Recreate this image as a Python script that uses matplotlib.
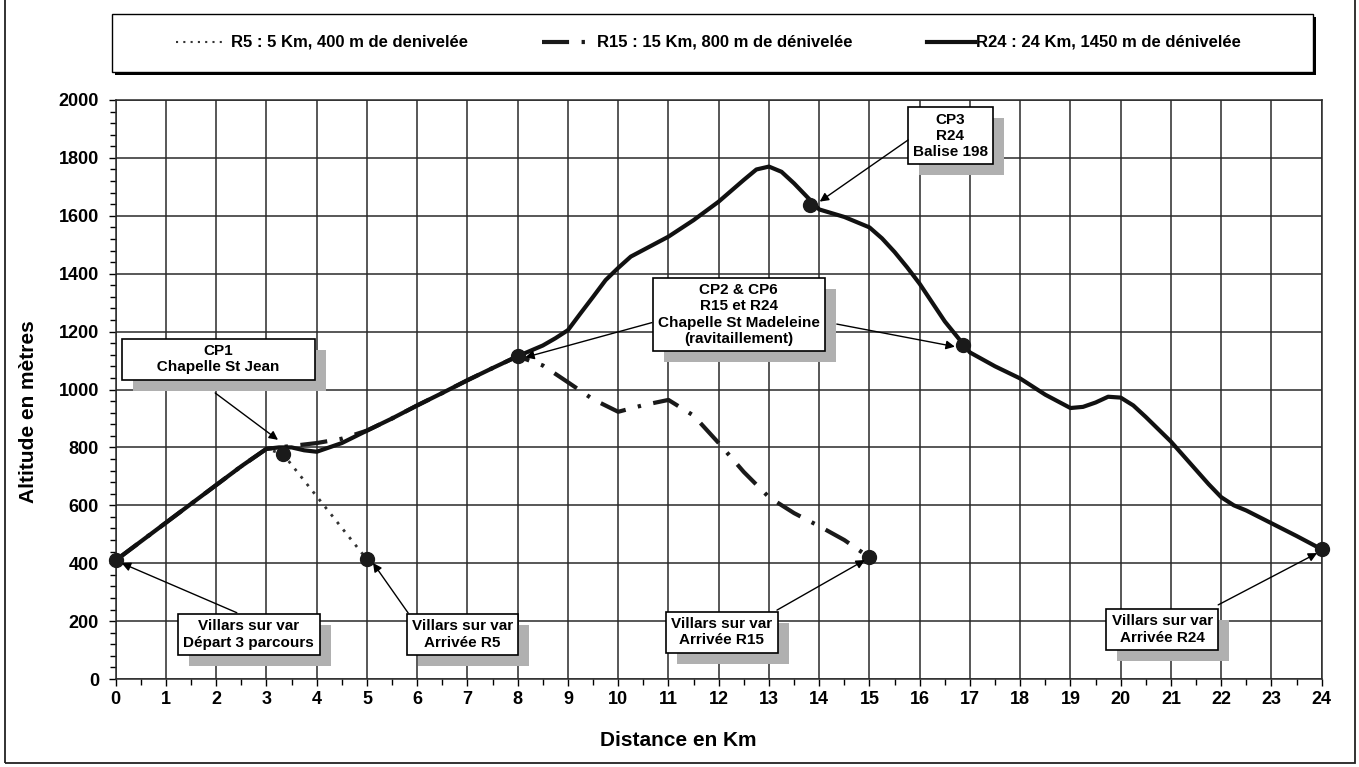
import matplotlib
matplotlib.use("Agg")
import matplotlib.pyplot as plt
import matplotlib.transforms as mtransforms
from matplotlib.lines import Line2D
from matplotlib.patches import Rectangle
from matplotlib.ticker import MultipleLocator

plt.rcParams["font.family"] = ["Liberation Sans", "DejaVu Sans"]
plt.rcParams["font.weight"] = "bold"

W, H = 1359, 767

# --- data (km, metres) ---
r24_km = [0, 0.5, 1, 1.5, 2, 2.5, 3, 3.25, 3.5, 3.75, 4, 4.5, 5, 5.5, 6, 6.5, 7, 7.5, 8,
          8.5, 8.75, 9, 9.25, 9.5, 9.75, 10, 10.25, 10.5, 11, 11.5, 12, 12.5, 12.75, 13,
          13.25, 13.5, 14, 14.5, 15, 15.25, 15.5, 15.75, 16, 16.5, 17, 17.5, 18, 18.5,
          19, 19.25, 19.5, 19.75, 20, 20.25, 20.5, 21, 21.5, 21.75, 22, 22.25, 22.5, 23,
          23.5, 24]
r24_alt = [410, 475, 540, 605, 670, 735, 795, 800, 800, 790, 785, 815, 858, 900, 945, 988,
           1032, 1074, 1115, 1152, 1177, 1205, 1263, 1320, 1378, 1420, 1459, 1482, 1528,
           1585, 1649, 1724, 1760, 1770, 1752, 1712, 1622, 1596, 1560, 1522, 1475, 1422,
           1365, 1235, 1128, 1080, 1038, 982, 936, 940, 955, 975, 972, 945, 905, 820, 722,
           673, 628, 600, 582, 538, 494, 448]

r15_km = [0, 0.5, 1, 1.5, 2, 2.5, 3, 3.5, 4, 4.5, 5, 5.5, 6, 6.5, 7, 7.5, 8, 8.5, 9, 9.5,
          10, 10.5, 11, 11.5, 12, 12.5, 13, 13.5, 14, 14.5, 15]
r15_alt = [410, 475, 540, 605, 670, 735, 795, 805, 815, 830, 858, 900, 945, 988, 1032,
           1074, 1115, 1083, 1025, 966, 923, 946, 964, 910, 815, 715, 628, 573, 528, 480,
           420]

r5_km = [0, 1, 2, 3, 3.33, 5]
r5_alt = [410, 540, 670, 795, 777, 413]

checkpoint_km = [0, 3.33, 5, 8, 13.82, 15, 16.86, 24]
checkpoint_alt = [410, 777, 413, 1115, 1637, 420, 1152, 448]

labels = [
    "CP1\n       Chapelle St Jean       ",
    "Villars sur var\nDépart 3 parcours",
    "Villars sur var\nArrivée R5",
    "CP2 & CP6\nR15 et R24\nChapelle St Madeleine\n(ravitaillement)",
    "CP3\nR24\nBalise 198",
    "Villars sur var\nArrivée R15",
    "Villars sur var\nArrivée R24",
]
label_pos = [(2.04, 1105), (2.65, 154), (6.9, 154), (12.4, 1259), (16.61, 1876),
             (12.06, 162), (20.83, 171)]
# arrows: (start, tip)
arrows = [((1.98, 988), (3.23, 826)),
          ((2.41, 229), (0.12, 400)),
          ((5.82, 228), (5.12, 401)),
          ((10.67, 1231), (8.15, 1111)),
          ((14.35, 1226), (16.70, 1148)),
          ((15.77, 1862), (14.01, 1649)),
          ((13.16, 238), (14.91, 411)),
          ((21.94, 256), (23.91, 435))]

legend_text = ["R5 : 5 Km, 400 m de denivelée",
               "R15 : 15 Km, 800 m de dénivelée",
               "R24 : 24 Km, 1450 m de dénivelée"]

DASHDOT = (0, (6.5, 3, 0.8, 3))
SHADOW = "#b0b0b0"

fig = plt.figure(figsize=(W / 100, H / 100), dpi=100)
ax = fig.add_axes([115.7 / W, 1 - 679 / H, 1206 / W, 579 / H])

ax.plot(r5_km, r5_alt, color="#333333", lw=2, ls=(0, (1, 2.5)), zorder=3)
ax.plot(r15_km, r15_alt, color="#1a1a1a", lw=3, ls=DASHDOT, zorder=3.2)
ax.plot(r24_km, r24_alt, color="#111111", lw=3, solid_joinstyle="round", zorder=3.4)
ax.plot(checkpoint_km, checkpoint_alt, "o", color="#1a1a1a", ms=10, zorder=4, clip_on=False)

ax.set_xlim(0, 24)
ax.set_ylim(0, 2000)
ax.xaxis.set_major_locator(MultipleLocator(1))
ax.xaxis.set_minor_locator(MultipleLocator(0.5))
ax.yaxis.set_major_locator(MultipleLocator(200))
ax.yaxis.set_minor_locator(MultipleLocator(40))
ax.grid(True, which="major", color="#2a2a2a", lw=1.1)
ax.set_axisbelow(True)
ax.tick_params(which="major", direction="out", length=5, width=1, labelsize=13)
ax.tick_params(axis="y", which="major", pad=7)
ax.tick_params(axis="x", which="major", pad=4)
ax.tick_params(which="minor", direction="out", length=4, width=1)
for lab in ax.get_xticklabels() + ax.get_yticklabels():
    lab.set_fontweight("bold")
for sp in ax.spines.values():
    sp.set_color("#2a2a2a")
    sp.set_linewidth(1.1)

ax.set_xlabel("Distance en Km", fontsize=15, fontweight="bold")
ax.set_ylabel("Altitude en mètres", fontsize=15, fontweight="bold")
ax.xaxis.set_label_coords((678 - 115.7) / 1206, -(731 - 679) / 579)
ax.yaxis.set_label_coords(-(115.7 - 38) / 1206, (679 - 412) / 579)

# boxed labels
boxes = []
for text, (x, y) in zip(labels, label_pos):
    t = ax.text(x, y, text, ha="center", va="center", fontsize=11, fontweight="bold",
                zorder=6, bbox=dict(boxstyle="square,pad=0.35", fc="white", ec="black", lw=1.2))
    boxes.append(t)

# grey drop shadows, offset down-right behind each box
fig.canvas.draw()
renderer = fig.canvas.get_renderer()
for t in boxes:
    bb = t.get_bbox_patch().get_window_extent(renderer)
    ax.add_patch(Rectangle((bb.x0 + 11, bb.y0 - 11), bb.width, bb.height,
                           transform=mtransforms.IdentityTransform(), fc=SHADOW,
                           ec="none", zorder=5, clip_on=False))

for start, tip in arrows:
    ax.annotate("", xy=tip, xytext=start, zorder=7,
                arrowprops=dict(arrowstyle="-|>", color="black", lw=1,
                                mutation_scale=13, shrinkA=0, shrinkB=0))

# legend box drawn by hand
fig.add_artist(Rectangle((115 / W, (H - 75) / H), 1201 / W, 58 / H,
                         transform=fig.transFigure, fc="black", ec="none"))
fig.add_artist(Rectangle((112 / W, (H - 72) / H), 1201 / W, 58 / H,
                         transform=fig.transFigure, fc="white", ec="black", lw=1))
ly = (H - 42) / H
fig.add_artist(Line2D([176 / W, 227 / W], [ly, ly], transform=fig.transFigure,
                      color="#333333", lw=1.5, ls=(0, (1, 2.5))))
fig.add_artist(Line2D([542 / W, 590 / W], [ly, ly], transform=fig.transFigure,
                      color="#1a1a1a", lw=3, ls=DASHDOT))
fig.add_artist(Line2D([927 / W, 975 / W], [ly, ly], transform=fig.transFigure,
                      color="#111111", lw=3))
for tx, txt in zip([231, 597, 976], legend_text):
    fig.text(tx / W, ly, txt, ha="left", va="center", fontsize=12, fontweight="bold")

# outer frame of the page
fig.add_artist(Rectangle((5 / W, 4 / H), 1350 / W, 1.2, transform=fig.transFigure,
                         fill=False, ec="#222222", lw=1.3))

fig.savefig("out.png", dpi=100)
